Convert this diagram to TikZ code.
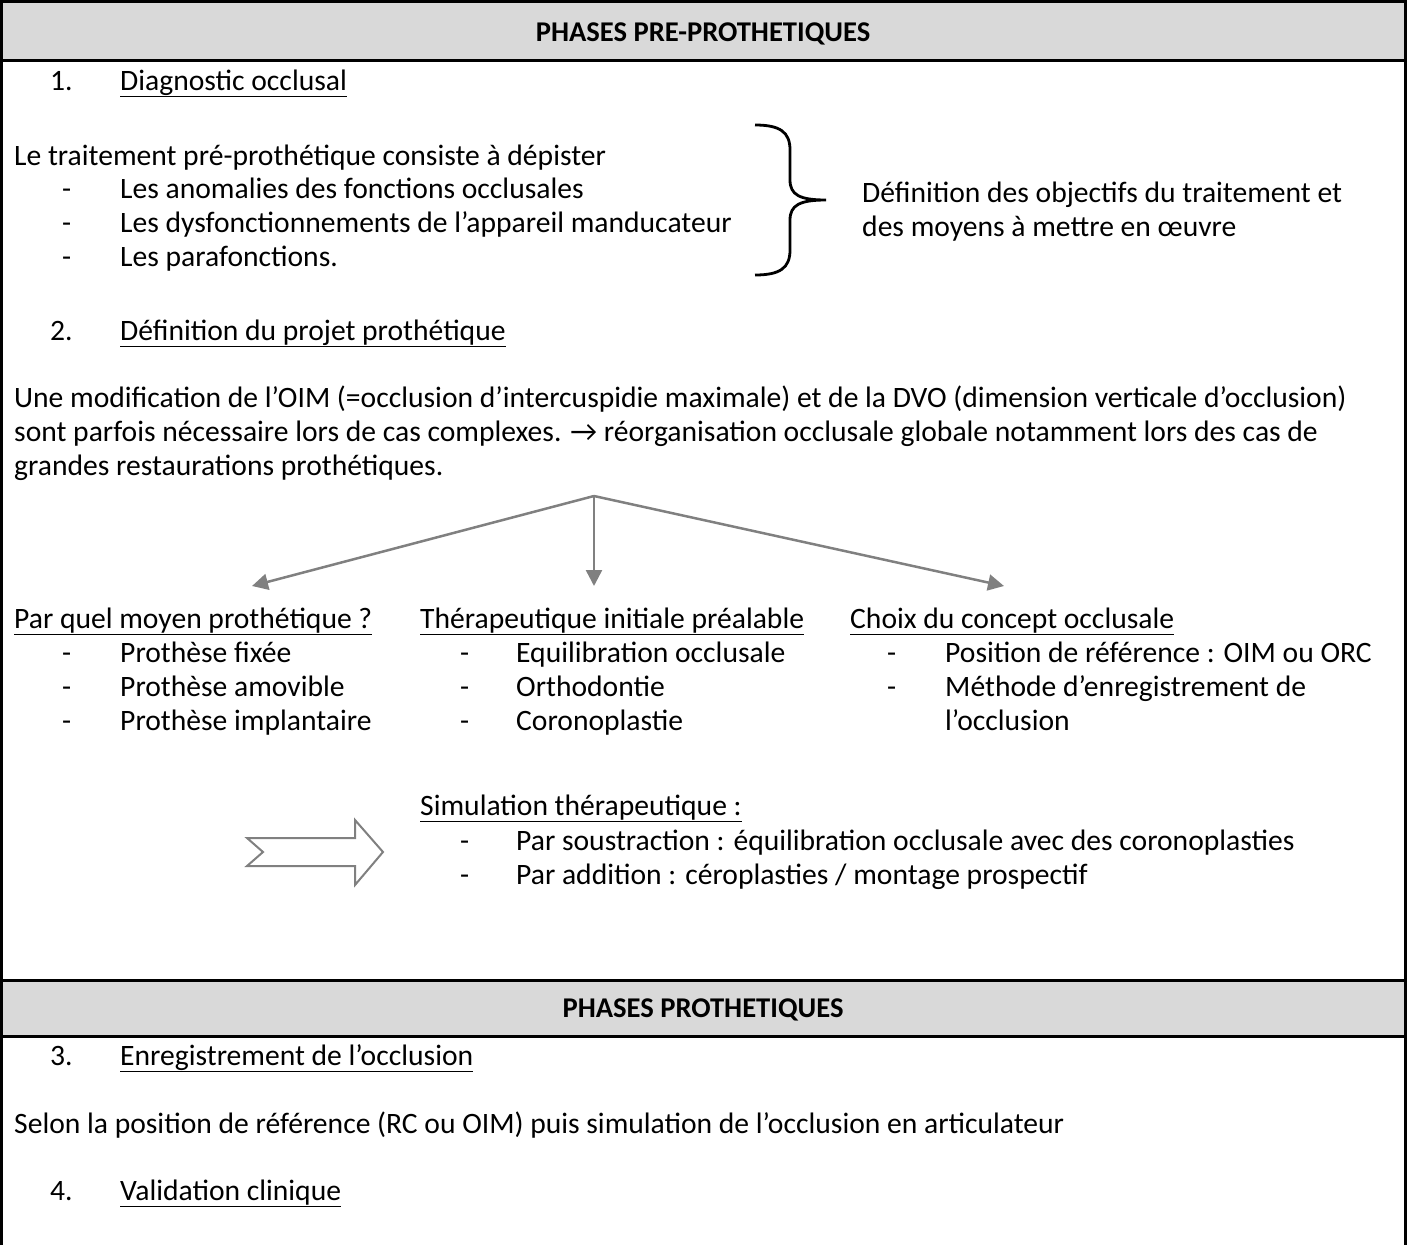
\documentclass[tikz,border=0pt]{standalone}
\usepackage{fontspec}
\setmainfont{Carlito}
\usetikzlibrary{arrows.meta}
\definecolor{hdrgray}{HTML}{D9D9D9}
\definecolor{arrgray}{HTML}{808080}
\tikzset{
  txt/.style={anchor=base west, inner sep=0pt, font=\fontsize{29.6}{34}\selectfont},
  hdr/.style={anchor=base, inner sep=0pt, font=\fontsize{28.6}{34}\selectfont\bfseries},
  border/.style={line width=3pt, black},
  garrow/.style={draw=arrgray, line width=2.5pt, -{Triangle[length=16pt,width=16pt]}},
}
\newcommand{\ulx}[1]{\underline{#1}}
\begin{document}
\begin{tikzpicture}[x=1pt,y=-1pt]
\useasboundingbox (0,0) rectangle (1407,1245);
% header bands
\fill[hdrgray] (1.5,1.5) rectangle (1405.5,60);
\fill[hdrgray] (1.5,980) rectangle (1405.5,1036);
\draw[border] (1.5,1245) -- (1.5,1.5) -- (1405.5,1.5) -- (1405.5,1245);
\draw[border] (1.5,60) -- (1405.5,60);
\draw[border] (1.5,980) -- (1405.5,980);
\draw[border] (1.5,1036) -- (1405.5,1036);
\node[hdr] (h1) at (703,41) {PHASES PRE-PROTHETIQUES};
\node[hdr] (h2) at (703,1017) {PHASES PROTHETIQUES};
% section 1
\node[txt] (n1) at (50,90) {1.};
\node[txt] (t1) at (120,90) {\ulx{Diagnostic occlusal}};
\node[txt] (p1) at (14,165) {Le traitement pré-prothétique consiste à dépister};
\node[txt] (d1) at (62,198) {-};
\node[txt] (i1) at (120,198) {Les anomalies des fonctions occlusales};
\node[txt] (d2) at (62,232) {-};
\node[txt] (i2) at (120,232) {Les dysfonctionnements de l’appareil manducateur};
\node[txt] (d3) at (62,266) {-};
\node[txt] (i3) at (120,266) {Les parafonctions.};
% brace
\coordinate (bt) at (755,125);
\coordinate (bm) at (826,200);
\coordinate (bb) at (755,275);
\draw[line width=2.8pt] (bt) .. controls (780,125) and (790,132) .. (790,150)
  -- (790,180) .. controls (790,195) and (800,200) .. (bm)
  .. controls (800,200) and (790,205) .. (790,220)
  -- (790,250) .. controls (790,268) and (780,275) .. (bb);
\node[txt] (r1) at (862,202) {Définition des objectifs du traitement et};
\node[txt] (r2) at (862,236) {des moyens à mettre en œuvre};
% section 2
\node[txt] (n2) at (50,340) {2.};
\node[txt] (t2) at (120,340) {\ulx{Définition du projet prothétique}};
\node[txt] (a1) at (14,407) {Une modification de l’OIM (=occlusion d’intercuspidie maximale) et de la DVO (dimension verticale d’occlusion)};
\node[txt] (a2) at (14,441) {sont parfois nécessaire lors de cas complexes. \char"2192\ réorganisation occlusale globale notamment lors des cas de};
\node[txt] (a3) at (14,475) {grandes restaurations prothétiques.};
% arrows
\coordinate (apex) at (594,496);
\coordinate (e1) at (252,586);
\coordinate (e2) at (594,586);
\coordinate (e3) at (1004,586);
\draw[garrow] (apex) -- (e1);
\draw[garrow] (apex) -- (e2);
\draw[garrow] (apex) -- (e3);
% columns
\node[txt] (c1) at (14,628) {\ulx{Par quel moyen prothétique ?}};
\node[txt] (c1d1) at (62,662) {-};
\node[txt] (c1i1) at (120,662) {Prothèse fixée};
\node[txt] (c1d2) at (62,696) {-};
\node[txt] (c1i2) at (120,696) {Prothèse amovible};
\node[txt] (c1d3) at (62,730) {-};
\node[txt] (c1i3) at (120,730) {Prothèse implantaire};
\node[txt] (c2) at (420,628) {\ulx{Thérapeutique initiale préalable}};
\node[txt] (c2d1) at (460,662) {-};
\node[txt] (c2i1) at (516,662) {Equilibration occlusale};
\node[txt] (c2d2) at (460,696) {-};
\node[txt] (c2i2) at (516,696) {Orthodontie};
\node[txt] (c2d3) at (460,730) {-};
\node[txt] (c2i3) at (516,730) {Coronoplastie};
\node[txt] (c3) at (850,628) {\ulx{Choix du concept occlusale}};
\node[txt] (c3d1) at (887,662) {-};
\node[txt] (c3i1) at (945,662) {Position de référence : OIM ou ORC};
\node[txt] (c3d2) at (887,696) {-};
\node[txt] (c3i2) at (945,696) {Méthode d’enregistrement de};
\node[txt] (c3i3) at (945,730) {l’occlusion};
% simulation
\node[txt] (s0) at (420,815) {\ulx{Simulation thérapeutique :}};
\node[txt] (sd1) at (460,850) {-};
\node[txt] (s1) at (516,850) {Par soustraction : équilibration occlusale avec des coronoplasties};
\node[txt] (sd2) at (460,884) {-};
\node[txt] (s2) at (516,884) {Par addition : céroplasties / montage prospectif};
\draw[draw=arrgray, line width=2pt, fill=white, line join=miter]
  (247,838) -- (355,838) -- (355,820) -- (383,852) -- (355,885) -- (355,866) -- (247,866) -- (263,852) -- cycle;
% section 3/4
\node[txt] (n3) at (50,1065) {3.};
\node[txt] (t3) at (120,1065) {\ulx{Enregistrement de l’occlusion}};
\node[txt] (q1) at (14,1133) {Selon la position de référence (RC ou OIM) puis simulation de l’occlusion en articulateur};
\node[txt] (n4) at (50,1200) {4.};
\node[txt] (t4) at (120,1200) {\ulx{Validation clinique}};
\end{tikzpicture}
\end{document}
